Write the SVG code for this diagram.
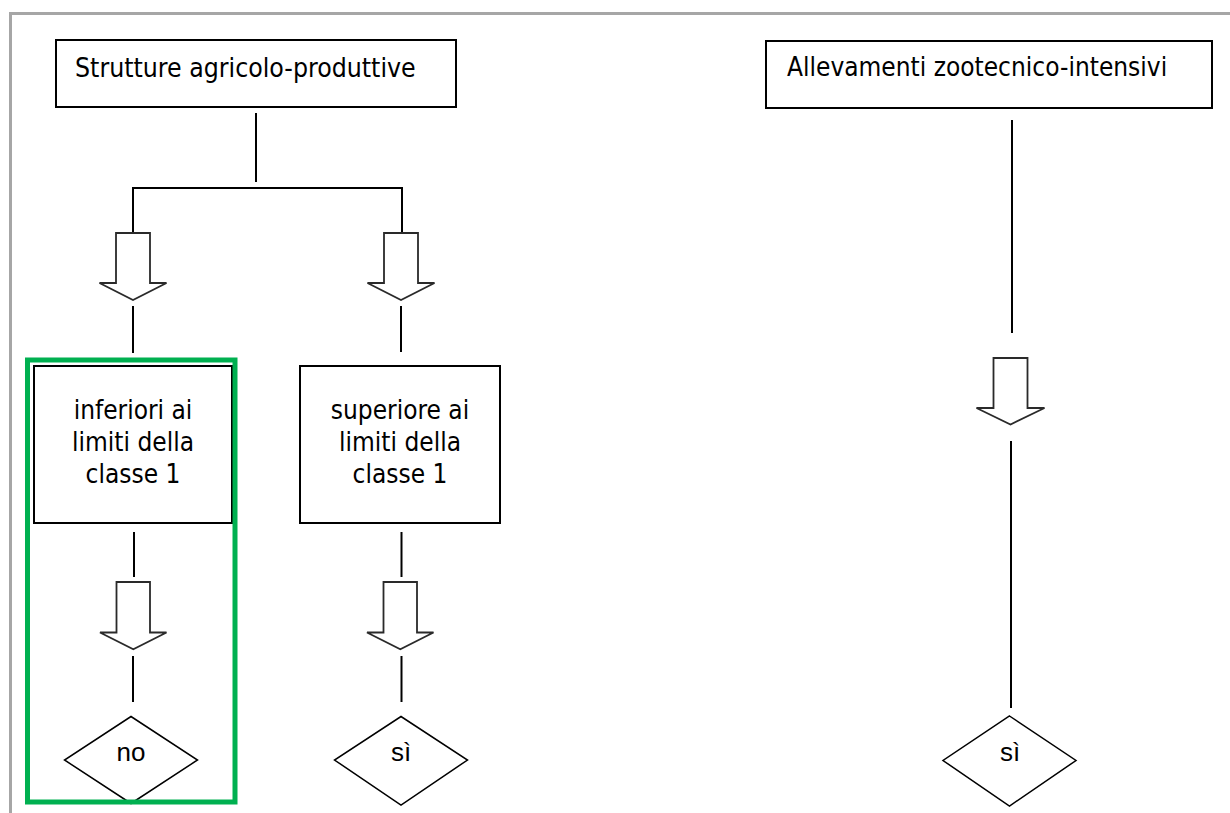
<svg xmlns="http://www.w3.org/2000/svg" width="1230" height="813" viewBox="0 0 1230 813">
<defs>
<style>
.box{fill:#fff;stroke:#000;stroke-width:2}
.arr{fill:#fff;stroke:#2a2a2a;stroke-width:1.8;stroke-linejoin:miter}
.ln{stroke:#000;stroke-width:2;fill:none}
.dia{fill:#fff;stroke:#000;stroke-width:1.5}
.t{font-family:"DejaVu Sans Condensed","DejaVu Sans",sans-serif;font-stretch:condensed;font-size:26px;fill:#000}
.h{font-size:26.4px}
.c{text-anchor:middle}
.d{font-family:"Liberation Sans",Arial,sans-serif;font-size:26px;fill:#000;text-anchor:middle}
</style>
</defs>
<rect width="1230" height="813" fill="#fff"/>
<rect x="10.5" y="13.5" width="1240" height="820" fill="none" stroke="#a6a6a6" stroke-width="3"/>

<g id="connectors">
<path class="ln" d="M256,113 V182"/>
<path class="ln" d="M133,233 V188 H402 V233"/>
<path class="ln" d="M133,306 V353"/>
<path class="ln" d="M401,306 V352"/>
<path class="ln" d="M134,532 V577"/>
<path class="ln" d="M401.5,532 V577"/>
<path class="ln" d="M133,656 V702"/>
<path class="ln" d="M401.5,656 V702"/>
<path class="ln" d="M1012,120 V333"/>
<path class="ln" d="M1011,441 V708"/>
<path class="arr" d="M116,233 H150 V283 H166.5 L133,300 L99.5,283 H116 Z"/>
<path class="arr" d="M384,233 H418 V283 H434.5 L401,300 L367.5,283 H384 Z"/>
<path class="arr" d="M116.5,582 H150 V632.5 H166.5 L133.3,649.3 L100,632.5 H116.5 Z"/>
<path class="arr" d="M383.5,582 H417 V632.5 H433.5 L400.3,649.3 L367,632.5 H383.5 Z"/>
<path class="arr" d="M993.5,358 H1027.5 V408 H1044.5 L1010.5,424.5 L976.5,408 H993.5 Z"/>
</g>

<g id="node-strutture">
<rect class="box" x="56" y="40" width="400" height="67"/>
<text class="t h" x="75" y="77">Strutture agricolo-produttive</text>
</g>

<g id="node-allevamenti">
<rect class="box" x="766" y="41" width="446" height="67"/>
<text class="t" x="787" y="76">Allevamenti zootecnico-intensivi</text>
</g>

<g id="node-inferiori">
<rect class="box" x="34" y="366" width="198" height="157"/>
<text class="t c" x="133" y="419">inferiori ai</text>
<text class="t c" x="133" y="451">limiti della</text>
<text class="t c" x="133" y="483">classe 1</text>
</g>

<g id="node-superiore">
<rect class="box" x="300" y="366" width="200" height="157"/>
<text class="t c" x="400" y="419">superiore ai</text>
<text class="t c" x="400" y="451">limiti della</text>
<text class="t c" x="400" y="483">classe 1</text>
</g>

<g id="node-no">
<path class="dia" d="M131,716.5 L197.5,760 L131,803.5 L64.5,760 Z"/>
<text class="d" x="131" y="761">no</text>
</g>

<g id="node-si-1">
<path class="dia" d="M401,716.5 L467.5,760 L401,805 L334.5,760 Z"/>
<text class="d" x="401" y="761">sì</text>
</g>

<g id="node-si-2">
<path class="dia" d="M1009.5,716 L1076,760.5 L1009.5,806 L943,760.5 Z"/>
<text class="d" x="1010" y="761">sì</text>
</g>

<rect id="highlight" x="27.5" y="360" width="207.5" height="442" fill="none" stroke="#00b050" stroke-width="5"/>
</svg>
